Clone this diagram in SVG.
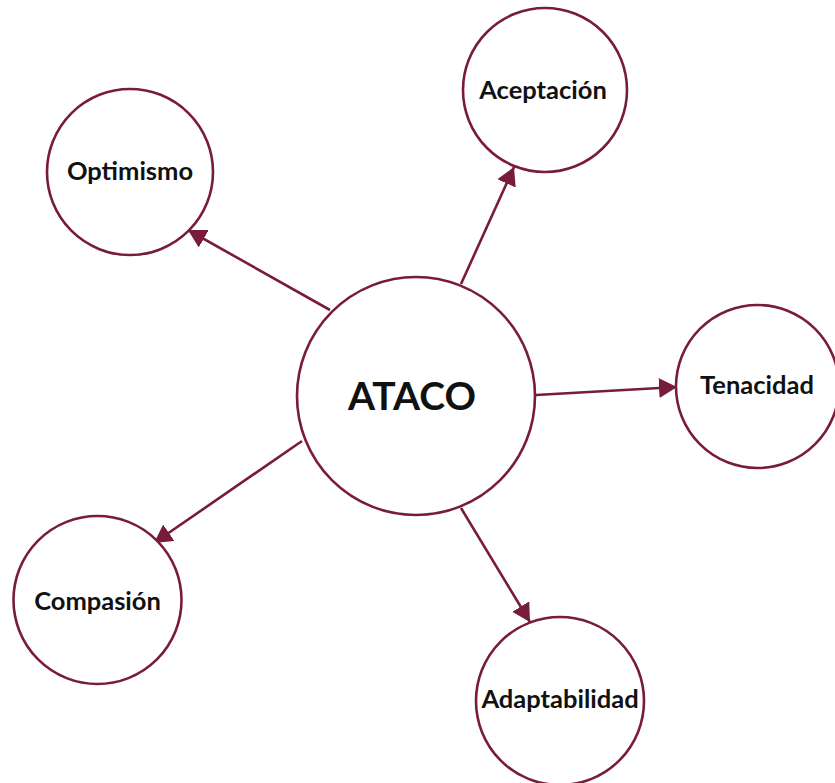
<svg xmlns="http://www.w3.org/2000/svg" width="835" height="783" viewBox="0 0 835 783">
  <style>
    .node circle { fill: #ffffff; stroke: #781c3c; stroke-width: 2.6; }
    .node text { font-family: Lato, "Liberation Sans", sans-serif; font-weight: bold; fill: #111111; text-anchor: middle; font-size: 25.5px; }
    .node text.hub { font-size: 39px; }
    .edge { stroke: #781c3c; stroke-width: 2.6; fill: none; marker-end: url(#arrow); }
  </style>
  <defs>
    <marker id="arrow" markerUnits="userSpaceOnUse" viewBox="0 0 18 20" refX="18" refY="10" markerWidth="18" markerHeight="20" orient="auto">
      <path d="M0,0 L18,10 L0,20 Z" fill="#781c3c"/>
    </marker>
  </defs>
  <rect width="835" height="783" fill="#ffffff"/>

  <!-- connectors from the hub -->
  <g id="connectors">
    <line class="edge" x1="330" y1="310" x2="188" y2="230"/>
    <line class="edge" x1="461" y1="284" x2="514" y2="167"/>
    <line class="edge" x1="536" y1="395" x2="677" y2="387"/>
    <line class="edge" x1="302" y1="441" x2="154" y2="543"/>
    <line class="edge" x1="461" y1="508" x2="530" y2="622"/>
  </g>

  <g id="ataco" class="node">
    <circle cx="416" cy="396" r="119"/>
    <text class="hub" x="412" y="410">ATACO</text>
  </g>
  <g id="optimismo" class="node">
    <circle cx="130" cy="172" r="83"/>
    <text x="130" y="180">Optimismo</text>
  </g>
  <g id="aceptacion" class="node">
    <circle cx="545" cy="90" r="82"/>
    <text x="543" y="99">Aceptación</text>
  </g>
  <g id="tenacidad" class="node">
    <circle cx="757.5" cy="386.5" r="81.5"/>
    <text x="757" y="394">Tenacidad</text>
  </g>
  <g id="compasion" class="node">
    <circle cx="97.5" cy="600" r="84"/>
    <text x="97.5" y="610">Compasión</text>
  </g>
  <g id="adaptabilidad" class="node">
    <circle cx="560" cy="701" r="84"/>
    <text x="560" y="708">Adaptabilidad</text>
  </g>
</svg>
